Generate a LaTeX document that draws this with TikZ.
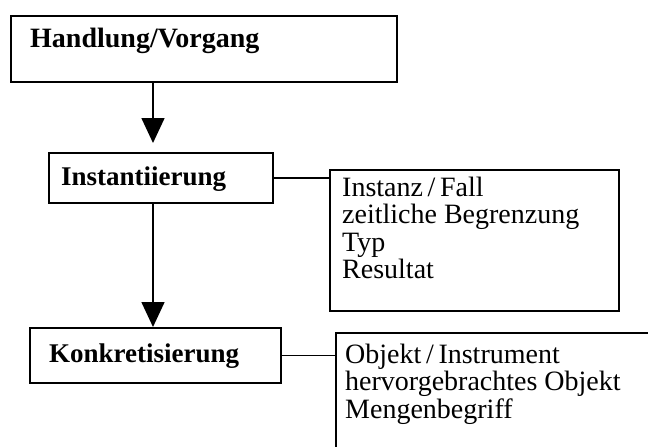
\documentclass[tikz,border=0pt]{standalone}
\usepackage{fontspec}
\setmainfont{Liberation Serif}
\usetikzlibrary{arrows.meta}
\begin{document}
\begin{tikzpicture}[x=1pt,y=-1pt,
  box/.style={draw, line width=1.6pt, rectangle, inner sep=0pt, anchor=north west},
  conn/.style={line width=1.6pt},
  arr/.style={line width=1.6pt, -{Triangle[width=23pt,length=25pt]}},
  boldtext/.style={font=\fontsize{27}{28}\selectfont\bfseries, anchor=base west, inner sep=0pt},
  plaintext/.style={font=\fontsize{28}{27.5}\selectfont, anchor=base west, inner sep=0pt, align=left},
]
\useasboundingbox (0,0) rectangle (648,447);
\clip (0,0) rectangle (648,447);
\node[box, minimum width=386pt, minimum height=66pt] (h) at (10,15) {};
\node[box, minimum width=224pt, minimum height=50pt] (inst) at (48,152) {};
\node[box, minimum width=289pt, minimum height=141pt] (fall) at (329,169) {};
\node[box, minimum width=251pt, minimum height=55pt] (konk) at (29,327) {};
\node[box, minimum width=340pt, minimum height=140pt] (obj) at (335,332) {};
\coordinate (ax) at (153,0);
\draw[arr, shorten >=9pt] (h.south -| ax) -- (inst.north -| ax);
\draw[arr] (inst.south -| ax) -- (konk.north -| ax);
\draw[conn] (inst.east) -- (inst.east -| fall.west);
\draw[conn] (konk.east) -- (konk.east -| obj.west);
\node[boldtext, font=\fontsize{28}{28}\selectfont\bfseries] (th) at (30,47) {Handlung/Vorgang};
\node[boldtext] (ti) at (61,185) {Instantiierung};
\node[boldtext] (tk) at (49,362) {Konkretisierung};
\node[plaintext] (tf) at (342,278.5) {Instanz\,/\,Fall\\zeitliche Begrenzung\\Typ\\Resultat};
\node[plaintext] (to) at (345,418) {Objekt\,/\,Instrument\\hervorgebrachtes Objekt\\Mengenbegriff};
\end{tikzpicture}
\end{document}
